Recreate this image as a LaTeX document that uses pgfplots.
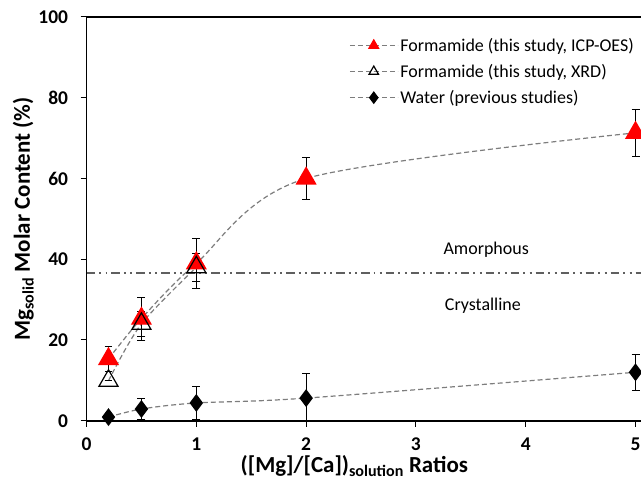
\documentclass[border=0pt]{standalone}
\usepackage{fontspec}
\setmainfont{Carlito}
\usepackage{pgfplots}
\usepackage{pgfplotstable}
\pgfplotsset{compat=1.18}
\definecolor{dashgray}{RGB}{125,125,125}
\definecolor{linegray}{RGB}{95,95,95}
\pgfplotstableread{
x y e
0.2 15.3 3.2
0.5 25.3 5.3
1 39.0 6.2
2 60.0 5.3
5 71.3 5.9
}\icp
\pgfplotstableread{
x y e
0.2 9.9 0
0.5 24.0 3.1
1 38.0 3.4
}\xrd
\pgfplotstableread{
x y e
0.2 0.9 0
0.5 2.9 2.6
1 4.4 4.0
2 5.6 6.0
5 12.0 4.5
}\water
\begin{document}
\begin{tikzpicture}[trim axis right]
\begin{axis}[
  scale only axis, width=555.5pt, height=404.5pt,
  xmin=0, xmax=5.05, ymin=0, ymax=100,
  axis x line=box, axis y line=left,
  x axis line style={-}, y axis line style={-},
  axis line style={black, line width=1.8pt},
  xtick={0,1,2,3,4,5}, ytick={0,20,40,60,80,100},
  xtick pos=left, ytick pos=left,
  tick align=outside, major tick length=6pt,
  tick style={black, line width=1pt},
  /pgf/number format/assume math mode=true,
  ticklabel style={font=\bfseries\fontsize{19.5}{22}\selectfont},
  xticklabel style={yshift=-8pt},
  yticklabel style={xshift=-9pt},
  xlabel={([Mg]/[Ca])\textsubscript{solution} Ratios},
  ylabel={Mg\textsubscript{solid} Molar Content (\%)},
  label style={font=\bfseries\fontsize{23}{26}\selectfont},
  xlabel style={at={(axis description cs:0.483,-0.113)}, anchor=center},
  ylabel style={at={(axis description cs:-0.114,0.5)}, anchor=center},
  legend style={draw=none, fill=none, at={(0.468,0.958)}, anchor=north west,
    font=\fontsize{18}{20}\selectfont, row sep=7.5pt},
  legend cell align=left,
  legend image code/.code={\draw[mark repeat=2, mark phase=2, mark size=5.5pt] plot coordinates {(0pt,0pt) (24pt,0pt) (48pt,0pt)};},
  every axis plot/.append style={line width=1.2pt},
]
\addplot[dashgray, dash pattern=on 5pt off 3pt, smooth,
  mark=triangle*, mark size=11pt, mark options={solid, fill=red, draw=red},
  error bars/.cd, y dir=both, y explicit,
  error bar style={black, line width=0.8pt, solid},
  error mark options={rotate=90, black, mark size=4pt, line width=0.8pt, solid}]
  table[x=x, y=y, y error=e]{\icp};
\addlegendentry{Formamide (this study, ICP-OES)}
\addplot[dashgray, dash pattern=on 5pt off 3pt, smooth,
  mark=triangle, mark size=11pt, mark options={solid, draw=black, line width=1.2pt},
  error bars/.cd, y dir=both, y explicit,
  error bar style={black, line width=0.8pt, solid},
  error mark options={rotate=90, black, mark size=4pt, line width=0.8pt, solid}]
  table[x=x, y=y, y error=e]{\xrd};
\addlegendentry{Formamide (this study, XRD)}
\addplot[dashgray, dash pattern=on 5pt off 3pt, smooth,
  mark=diamond*, mark size=8pt, mark options={solid, fill=black, draw=black},
  error bars/.cd, y dir=both, y explicit,
  error bar style={black, line width=0.8pt, solid},
  error mark options={rotate=90, black, mark size=4pt, line width=0.8pt, solid}]
  table[x=x, y=y, y error=e]{\water};
\addlegendentry{Water (previous studies)}
\addplot[linegray, line width=2pt, forget plot,
  dash pattern=on 8.5pt off 4pt on 2pt off 4.5pt on 2pt off 4pt]
  coordinates {(0,36.5) (5.05,36.5)};
\node[font=\fontsize{18}{20}\selectfont] at (axis cs:3.64,42.4) {Amorphous};
\node[font=\fontsize{18}{20}\selectfont] at (axis cs:3.61,28.4) {Crystalline};
\end{axis}
\path ([xshift=-86.7pt,yshift=-66.3pt]current axis.south west) rectangle ([yshift=17pt]current axis.north west);
\end{tikzpicture}
\end{document}
